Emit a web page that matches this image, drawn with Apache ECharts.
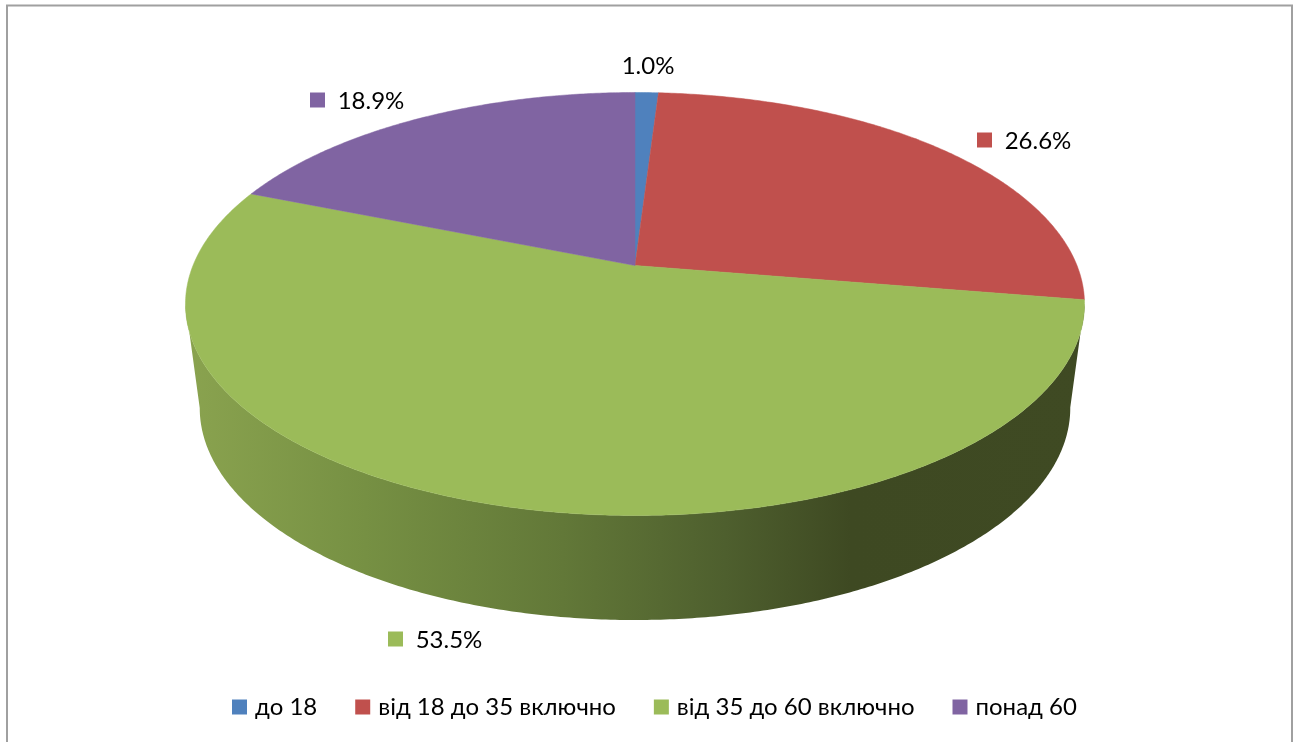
<!DOCTYPE html>
<html>
<head>
<meta charset="utf-8">
<script src="https://cdn.jsdelivr.net/npm/echarts@6/dist/echarts.min.js"></script>
<style>
  html, body { margin: 0; padding: 0; background: #fff; }
  #main { width: 1295px; height: 742px; }
</style>
</head>
<body>
<div id="main"></div>
<script>
// дані
var categories = ['до 18', 'від 18 до 35 включно', 'від 35 до 60 включно', 'понад 60'];
var values = [1.0, 26.6, 53.5, 18.9];

var colors = ['#4f81bd', '#c0504d', '#9bbb59', '#8064a2'];
var fontName = 'Lato';

// де стоять підписи: x,y центру тексту і x квадратика (null = без квадратика)
var labelSpots = [
  { x: 648, y: 66, key: null },
  { x: 1038, y: 141, key: 977 },
  { x: 449, y: 640, key: 388 },
  { x: 371, y: 101, key: 310 }
];

// перспектива: центр круга не в центрі еліпса
var persp = 0.182;
var topFace = { cx: 635, cy: 265.5, a: 442, b: 204.5 };
var bottomFace = { cx: 635, cy: 369.4, a: 428, b: 205 };

function project(face, deg) {
  var t = deg * Math.PI / 180;
  var u = Math.sin(t), v = Math.cos(t);
  var w = 1 + persp * v;
  return [face.cx + face.a * u / w, face.cy - face.b * v / w];
}

function rim(face, from, to) {
  var pts = [];
  var n = Math.ceil((to - from) / 0.5);
  for (var i = 0; i <= n; i++) {
    pts.push(project(face, from + (to - from) * i / n));
  }
  return pts;
}

function extremeIndex(pts, sign) {
  var best = 0;
  pts.forEach(function (p, i) {
    if ((p[0] - pts[best][0]) * sign > 0) best = i;
  });
  return best;
}

// бокова стінка: верхня дуга, дотичні по краях, нижня дуга
function wallPoints(from, to) {
  var a = rim(topFace, from, to);
  var b = rim(bottomFace, from, to);
  var aR = extremeIndex(a, 1), aL = extremeIndex(a, -1);
  var bR = extremeIndex(b, 1), bL = extremeIndex(b, -1);
  return a.slice(aR, aL + 1).concat(b.slice(bR, bL + 1).reverse());
}

var total = values.reduce(function (s, v) { return s + v; }, 0);
var starts = [];
values.reduce(function (s, v, i) { starts[i] = s; return s + v; }, 0);

function makeRender(idx) {
  return function (params, api) {
    var from = starts[idx] / total * 360;
    var to = from + api.value(0) / total * 360;
    var kids = [];
    if (idx === 2) {
      kids.push({
        type: 'polygon',
        shape: { points: wallPoints(from, to) },
        style: {
          fill: new echarts.graphic.LinearGradient(0, 0, 1, 0, [
            { offset: 0, color: '#8aa34f' },
            { offset: 0.2, color: '#769043' },
            { offset: 0.42, color: '#627838' },
            { offset: 0.6, color: '#4e5f2e' },
            { offset: 0.74, color: '#3e4922' },
            { offset: 1, color: '#3f4a23' }
          ])
        }
      });
    }
    kids.push({
      type: 'polygon',
      shape: { points: [[topFace.cx, topFace.cy]].concat(rim(topFace, from, to)) },
      style: { fill: colors[idx], stroke: colors[idx], lineWidth: 0.5 }
    });
    var spot = labelSpots[idx];
    if (spot.key !== null) {
      kids.push({
        type: 'rect',
        shape: { x: spot.key, y: spot.y - 8.5, width: 15, height: 15 },
        style: { fill: colors[idx] }
      });
    }
    kids.push({
      type: 'text',
      style: {
        text: api.value(0).toFixed(1) + '%',
        x: spot.x, y: spot.y,
        align: 'center', verticalAlign: 'middle',
        fill: '#000', font: '24px ' + fontName
      }
    });
    return { type: 'group', children: kids };
  };
}

var myChart = echarts.init(document.getElementById('main'));
var option = {
  animation: false,
  backgroundColor: '#fff',
  legend: {
    data: categories,
    left: 227,
    top: 690,
    icon: 'rect',
    itemWidth: 15,
    itemHeight: 15,
    itemGap: 38,
    textStyle: { fontFamily: fontName, fontSize: 24, color: '#000', padding: [0, 0, 0, 3] }
  },
  graphic: [{
    type: 'rect',
    shape: { x: 7, y: 5.5, width: 1285, height: 760 },
    style: { fill: 'none', stroke: '#a0a0a0', lineWidth: 2 },
    silent: true
  }],
  series: categories.map(function (name, i) {
    return {
      type: 'custom',
      name: name,
      coordinateSystem: 'none',
      itemStyle: { color: colors[i] },
      renderItem: makeRender(i),
      data: [[values[i]]]
    };
  })
};
myChart.setOption(option);
</script>
</body>
</html>
